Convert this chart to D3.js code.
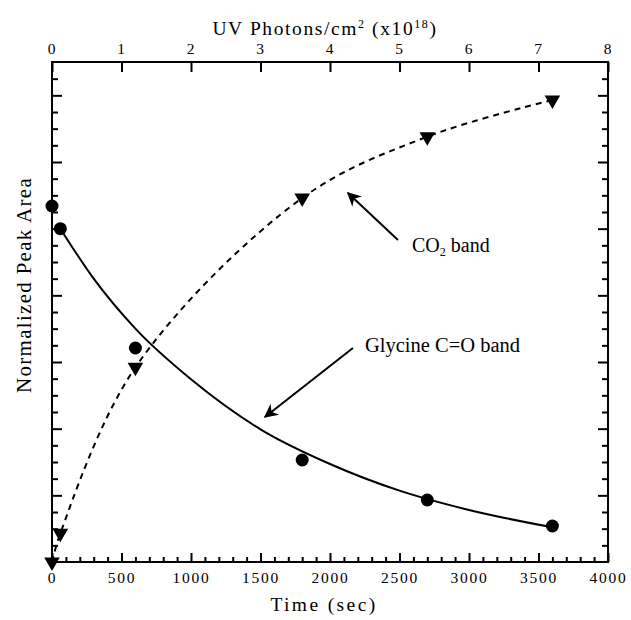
<!DOCTYPE html>
<html>
<head>
<meta charset="utf-8">
<script src="https://cdn.jsdelivr.net/npm/d3@7"></script>
<style>
  body { margin: 0; background: #fff; }
  svg { display: block; }
  text { font-family: "Liberation Serif", "Times New Roman", serif; fill: #000; }
</style>
</head>
<body>
<svg width="631" height="620"></svg>
<script>
const svg = d3.select("svg");

const margin = { top: 62, right: 23, bottom: 58, left: 52 };
const width = 631, height = 620;

// ---- data ----
const glyTime  = [0, 60, 600, 1800, 2700, 3600];
const glyArea  = [5.34, 5.0, 3.21, 1.53, 0.93, 0.54];

const co2Time  = [0, 60, 600, 1800, 2700, 3600];
const co2Area  = [0.0, 0.43, 2.92, 5.46, 6.38, 6.93];

// smooth decay curve drawn through the glycine points
const fitTime  = [60, 300, 600, 1000, 1500, 2000, 2500, 3000, 3600];
const fitArea  = [5.0, 4.25, 3.5, 2.74, 1.99, 1.47, 1.07, 0.78, 0.52];

const bottomTicks = [0, 500, 1000, 1500, 2000, 2500, 3000, 3500, 4000];
const topTicks    = [0, 1, 2, 3, 4, 5, 6, 7, 8];

// ---- scales ----
const x = d3.scaleLinear().domain([0, 4000]).range([margin.left, width - margin.right]);
const xTop = d3.scaleLinear().domain([0, 8]).range(x.range());
const y = d3.scaleLinear().domain([0, 7.5]).range([height - margin.bottom, margin.top]);

const x0 = x.range()[0], x1 = x.range()[1];
const y0 = y.range()[0], y1 = y.range()[1];

// ---- axes (ticks point inward) ----
const axisStyle = g => {
  g.select(".domain").remove();
  g.selectAll(".tick line").attr("stroke", "#000").attr("stroke-width", 2);
  g.selectAll(".tick text")
    .attr("font-size", 15.5).attr("font-family", "Liberation Serif")
    .attr("letter-spacing", 1.8);
};

// bottom: minor every 100, major every 500
svg.append("g").attr("transform", `translate(0,${y0})`)
  .call(d3.axisBottom(x).tickValues(d3.range(0, 4001, 100).filter(v => v % 500)).tickSizeInner(-5).tickSizeOuter(0).tickFormat(""))
  .call(axisStyle);
svg.append("g").attr("transform", `translate(0,${y0})`)
  .call(d3.axisBottom(x).tickValues(bottomTicks).tickSizeInner(-9).tickSizeOuter(0).tickPadding(10).tickFormat(d3.format("d")))
  .call(axisStyle);

// top: photons, major only
svg.append("g").attr("transform", `translate(0,${y1})`)
  .call(d3.axisTop(xTop).tickValues(topTicks).tickSizeInner(-10).tickSizeOuter(0).tickPadding(8).tickFormat(d3.format("d")))
  .call(axisStyle);

// left / right: minor every 0.25, major every 1, no labels
[[x0, d3.axisLeft], [x1, d3.axisRight]].forEach(([px, ax]) => {
  svg.append("g").attr("transform", `translate(${px},0)`)
    .call(ax(y).tickValues(d3.range(0.25, 7.5, 0.25).filter(v => v % 1)).tickSizeInner(-6).tickSizeOuter(0).tickFormat(""))
    .call(axisStyle);
  svg.append("g").attr("transform", `translate(${px},0)`)
    .call(ax(y).tickValues(d3.range(1, 8, 1)).tickSizeInner(-10).tickSizeOuter(0).tickFormat(""))
    .call(axisStyle);
});

// frame
svg.append("rect")
  .attr("x", x0).attr("y", y1)
  .attr("width", x1 - x0).attr("height", y0 - y1)
  .attr("fill", "none").attr("stroke", "#000").attr("stroke-width", 2);

// ---- axis titles ----
const topTitle = svg.append("text")
  .attr("x", 325).attr("y", 35)
  .attr("text-anchor", "middle").attr("font-size", 19.5).attr("letter-spacing", 1.6);
topTitle.append("tspan").text("UV Photons/cm");
topTitle.append("tspan").attr("font-size", 12).attr("dy", -7).text("2");
topTitle.append("tspan").attr("dy", 7).text(" (x10");
topTitle.append("tspan").attr("font-size", 12).attr("dy", -7).text("18");
topTitle.append("tspan").attr("dy", 7).text(")");

svg.append("text")
  .attr("x", 324).attr("y", 611)
  .attr("text-anchor", "middle").attr("font-size", 19.5).attr("letter-spacing", 2.4)
  .text("Time (sec)");

svg.append("text")
  .attr("transform", `translate(31,285) rotate(-90)`)
  .attr("text-anchor", "middle").attr("font-size", 21).attr("letter-spacing", 1.3)
  .text("Normalized Peak Area");

// ---- lines ----
const glyFit = fitTime.map((t, i) => [t, fitArea[i]]);
svg.append("path")
  .datum(glyFit)
  .attr("d", d3.line().x(d => x(d[0])).y(d => y(d[1])).curve(d3.curveMonotoneX))
  .attr("fill", "none").attr("stroke", "#000").attr("stroke-width", 2);

const co2 = co2Time.map((t, i) => [t, co2Area[i]]);
svg.append("path")
  .datum(co2)
  .attr("d", d3.line().x(d => x(d[0])).y(d => y(d[1])).curve(d3.curveCatmullRom.alpha(0.5)))
  .attr("fill", "none").attr("stroke", "#000").attr("stroke-width", 2)
  .attr("stroke-dasharray", "6,5");

// ---- markers ----
const gly = glyTime.map((t, i) => [t, glyArea[i]]);
svg.append("g").selectAll("circle")
  .data(gly).join("circle")
  .attr("cx", d => x(d[0])).attr("cy", d => y(d[1]))
  .attr("r", 6.5).attr("fill", "#000");

const tri = d3.symbol().type(d3.symbolTriangle).size(105);
svg.append("g").selectAll("path")
  .data(co2).join("path")
  .attr("d", tri)
  .attr("transform", d => `translate(${x(d[0])},${y(d[1])}) rotate(180)`)
  .attr("fill", "#000");

// ---- annotations ----
svg.append("defs").append("marker")
  .attr("id", "head").attr("viewBox", "0 0 10 10")
  .attr("refX", 9).attr("refY", 5)
  .attr("markerWidth", 9).attr("markerHeight", 7).attr("markerUnits", "strokeWidth")
  .attr("orient", "auto")
  .append("path").attr("d", "M0,0 L10,5 L0,10 L3,5 Z").attr("fill", "#000");

const arrows = [
  { from: [2489, 4.83], to: [2129, 5.535] },
  { from: [2165, 3.21], to: [1532, 2.175] }
];
arrows.forEach(a => {
  svg.append("line")
    .attr("x1", x(a.from[0])).attr("y1", y(a.from[1]))
    .attr("x2", x(a.to[0])).attr("y2", y(a.to[1]))
    .attr("stroke", "#000").attr("stroke-width", 2)
    .attr("marker-end", "url(#head)");
});

const co2Label = svg.append("text")
  .attr("x", x(2590)).attr("y", y(4.65)).attr("font-size", 20);
co2Label.append("tspan").text("CO");
co2Label.append("tspan").attr("font-size", 12).attr("dy", 4).text("2");
co2Label.append("tspan").attr("dy", -4).text(" band");

svg.append("text")
  .attr("x", x(2252)).attr("y", y(3.15)).attr("font-size", 20.5)
  .text("Glycine C=O band");
</script>
</body>
</html>
